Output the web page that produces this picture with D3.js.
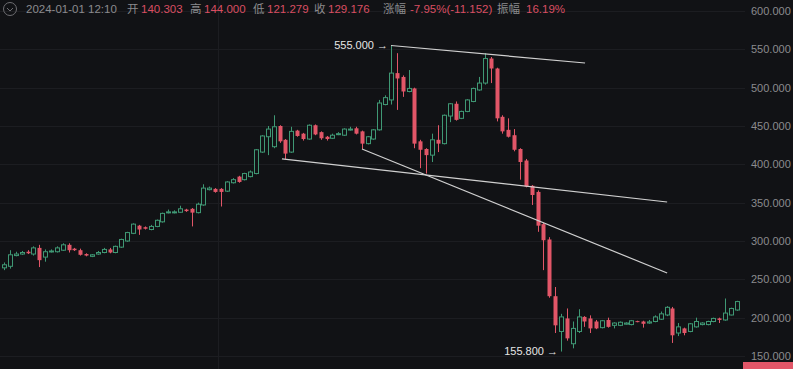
<!DOCTYPE html>
<html>
<head>
<meta charset="utf-8">
<script src="https://cdn.jsdelivr.net/npm/d3@7"></script>
<style>
  body { margin: 0; background: #111215; }
  svg { display: block; }
  text { font-family: "Liberation Sans", Arial, "Noto Sans CJK SC", sans-serif; }
</style>
</head>
<body>
<div id="chart"></div>
<script>
// candle data (index = candle position)
var opens  = [265,267,281,283,286,283,291,279,286,286,288,295,290,288,283,280,283,285,289,285,
              292,300,310,320,318,315,319,325,337,337,337.5,341,342,337,347,367,368,368,365,376,
              384,380,384,388,416,436,423,450,432,416,444,440,433,451,442,436,434,439,438,445,
              447,443,427,433,445,478,484,519,514,495,499,430,420,412,432,427,463,479,460,469,
              482,497,506,538,525,462,445,438,420,405,372,364,322,302,228,182,199,166,182,201,
              199,195,187,197,190,190,191.5,191,195.5,195,193,195,198,203.5,212,180,186,182,188,191,
              191,195,199,197,203.5,210];
var highs  = [272,288,286,287,288,293,295,289,289,293,297,297,291,290,284,283,287,291,291,294,
              303,312,323,321,319,321,328,337,341,340,346,342,343,350,374,371,369,369,378,382,
              385,389,392,420,438,450,464,451,433,449,445,441,452,452,443,437,440,442,447,449,
              449,444,437,446,484,490,555,545,516,523,500,432,421,440,451,465,480,482,470,485,
              500,514,545,540,526,464,460,446,421,407,373,366,324,305,240,205,212,195,211,202,
              203,197,197,200,194,195,194,197,196,196,197,203,208,215,214,193,187,193,200,194,
              196,200,200,225,213,222];
var lows   = [262,264,280,282,283,281,266,273,285,285,287,285,287,281,280,279,282,284,284,284,
              291,299,309,308,315,314,318,324,336,336,337,338,319,336,346,366,363,345,364,375,
              376,379,383,387,415,412,421,428,407,415,436,431,432,438,432,431,433,438,437,444,
              439,420,426,432,444,477,478,471,488,494,421,395,388,403,416,426,455,457,459,468,
              481,496,504,506,456,440,435,417,380,370,347,312,262,226,180,155.8,170,160,180,188,
              180,185,186,187,186,189,191,190,194,187,192,194,197,202,167,176,177,181,187,190,
              190,194,193,196,203,209];
var closes = [269,282,283,285,284,291,275,286,287,291,295,288,288,282,281,282,285,289,285,293,
              302,311,322,315,316,319,327,336,338,338,342,339,337,348,369,369,364,364,377,380,
              377,388,390,419,437,446,449,430,414,443,437,433,451,439,434,433,438,440,446,446,
              440,427,436,445,480,487,519,512,495,499,427,419,412,432,427,464,479,458,469,484,
              499,506,538,525,460,443,436,419,403,371,360,320,301,228,190,201,173,186,201,195,
              186,186,196,188,193,194,193,196,194.5,192,194.5,201,205,213.5,177,188,180,192,195,193,
              195,199,197,206,212,221];

var yTicks = [150,200,250,300,350,400,450,500,550,600];
var gridIdx = [36.5];

// trend lines drawn on the chart: [index, price] pairs
var trendLines = [
  [[66, 555], [99.1, 532.2]],
  [[47.4, 407], [113.1, 350.9]],
  [[61.05, 420], [113.1, 258.3]]
];

// markers for highest / lowest price
var marks = [{i: 66, v: 555, label: "555.000 →"}, {i: 95, v: 155.8, label: "155.800 →"}];

// the header line (hovered candle)
var header = [
  {t: "2024-01-01 12:10", x: 26, c: "#8b8b8e"},
  {t: "开", x: 127, c: "#8b8b8e"},
  {t: "140.303", x: 141, c: "#d94e62"},
  {t: "高", x: 190, c: "#8b8b8e"},
  {t: "144.000", x: 204, c: "#d94e62"},
  {t: "低", x: 253, c: "#8b8b8e"},
  {t: "121.279", x: 267, c: "#d94e62"},
  {t: "收", x: 314, c: "#8b8b8e"},
  {t: "129.176", x: 328, c: "#d94e62"},
  {t: "涨幅", x: 383, c: "#8b8b8e"},
  {t: "-7.95%(-11.152)", x: 410, c: "#d94e62"},
  {t: "振幅", x: 497, c: "#8b8b8e"},
  {t: "16.19%", x: 526, c: "#d94e62"}
];

var width = 793, height = 369;
var up = "#3f9874", down = "#e25668";

var candles = opens.map(function(o, i) {
  return {i: i, o: o, h: highs[i], l: lows[i], c: closes[i]};
});

var svg = d3.select("#chart").append("svg")
    .attr("width", width)
    .attr("height", height);

svg.append("rect").attr("width", width).attr("height", height).attr("fill", "#111215");

var x = d3.scaleLinear().domain([0, candles.length - 1]).range([4.1, 736.9]);
var y = d3.scaleLinear().domain([150, 600]).range([356, 11]);

// grid
svg.append("g").selectAll("line")
    .data(yTicks)
    .enter().append("line")
    .attr("x1", 0).attr("x2", 745)
    .attr("y1", function(d) { return Math.round(y(d)) + 0.5; })
    .attr("y2", function(d) { return Math.round(y(d)) + 0.5; })
    .attr("stroke", "#1c1d21");
svg.append("g").selectAll("line")
    .data(gridIdx)
    .enter().append("line")
    .attr("x1", function(d) { return Math.round(x(d)) + 0.5; })
    .attr("x2", function(d) { return Math.round(x(d)) + 0.5; })
    .attr("y1", 0).attr("y2", height)
    .attr("stroke", "#1c1d21");

// y axis labels
var yAxis = d3.axisRight(y).tickValues(yTicks).tickSize(0).tickPadding(0)
    .tickFormat(d3.format(".3f"));
var ax = svg.append("g").attr("transform", "translate(751,0)").call(yAxis);
ax.select(".domain").remove();
ax.selectAll("text").attr("fill", "#8b8b8e").attr("font-size", "11px")
    .style("font-family", "'Liberation Sans', Arial, sans-serif");

// candles
var bw = 4;
var cg = svg.append("g");
cg.selectAll("line")
    .data(candles)
    .enter().append("line")
    .attr("x1", function(d) { return Math.round(x(d.i)) + 0.5; })
    .attr("x2", function(d) { return Math.round(x(d.i)) + 0.5; })
    .attr("y1", function(d) { return y(d.h); })
    .attr("y2", function(d) { return y(d.l); })
    .attr("stroke", function(d) { return d.c >= d.o ? up : down; });

cg.selectAll("rect")
    .data(candles)
    .enter().append("rect")
    .attr("x", function(d) { return Math.round(x(d.i)) - bw / 2 + 0.5; })
    .attr("y", function(d) { return y(Math.max(d.o, d.c)); })
    .attr("width", bw)
    .attr("height", function(d) { return Math.max(1, Math.abs(y(d.o) - y(d.c))); })
    .attr("fill", function(d) { return d.c >= d.o ? "#111215" : down; })
    .attr("stroke", function(d) { return d.c >= d.o ? up : down; })
    .attr("stroke-width", function(d) { return d.c >= d.o ? 1 : 0; });

// trend lines
svg.append("g").selectAll("line")
    .data(trendLines)
    .enter().append("line")
    .attr("x1", function(d) { return x(d[0][0]); })
    .attr("y1", function(d) { return y(d[0][1]); })
    .attr("x2", function(d) { return x(d[1][0]); })
    .attr("y2", function(d) { return y(d[1][1]); })
    .attr("stroke", "#d0d0d0")
    .attr("stroke-width", 1.2);

// high / low labels
svg.append("g").selectAll("text")
    .data(marks)
    .enter().append("text")
    .attr("x", function(d) { return x(d.i) - 3; })
    .attr("y", function(d) { return y(d.v); })
    .attr("dy", "0.35em")
    .attr("text-anchor", "end")
    .attr("font-size", "11px")
    .attr("fill", "#e6e6e6")
    .text(function(d) { return d.label; });

// current price tag (cut at the bottom)
svg.append("rect").attr("x", 743).attr("y", 362).attr("width", 50).attr("height", 10)
    .attr("fill", down);

// header
var hd = svg.append("g");
hd.append("circle").attr("cx", 10).attr("cy", 9).attr("r", 6.5)
    .attr("fill", "none").attr("stroke", "#6e6e72").attr("stroke-width", 1);
hd.append("path").attr("d", "M7,8L10,11L13,8")
    .attr("fill", "none").attr("stroke", "#6e6e72").attr("stroke-width", 1);
hd.selectAll("text")
    .data(header)
    .enter().append("text")
    .attr("x", function(d) { return d.x; })
    .attr("y", 9)
    .attr("dy", "0.35em")
    .attr("font-size", "11.5px")
    .attr("fill", function(d) { return d.c; })
    .text(function(d) { return d.t; });
</script>
</body>
</html>
